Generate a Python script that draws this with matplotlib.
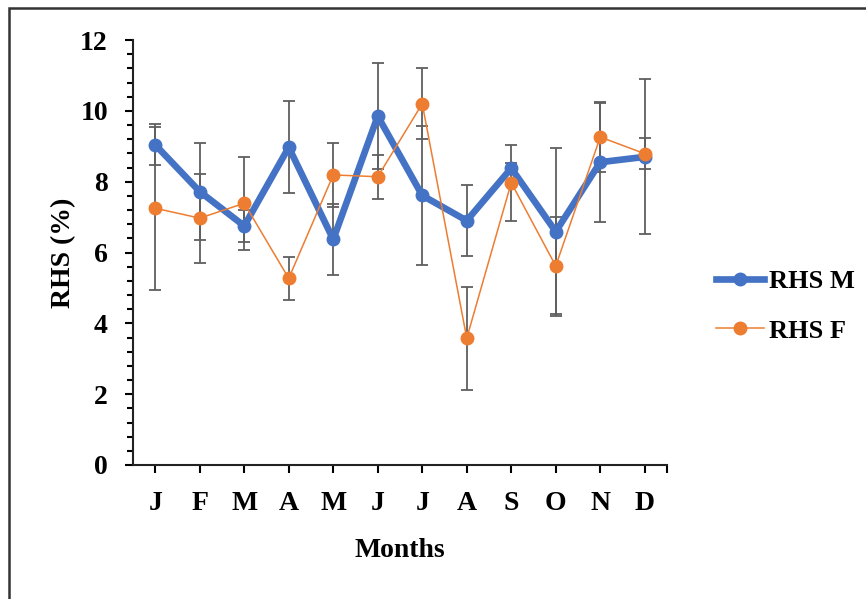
import matplotlib.pyplot as plt
from matplotlib.patches import Rectangle
from matplotlib.ticker import MultipleLocator, FixedLocator

months = ['J', 'F', 'M', 'A', 'M', 'J', 'J', 'A', 'S', 'O', 'N', 'D']
rhs_m = [9.04, 7.72, 6.75, 8.97, 6.37, 9.85, 7.61, 6.90, 8.38, 6.59, 8.55, 8.70]
rhs_m_err = [0.58, 1.36, 0.45, 1.30, 1.00, 1.50, 1.97, 1.00, 0.15, 2.37, 1.68, 2.19]
rhs_f = [7.25, 6.97, 7.39, 5.27, 8.19, 8.14, 10.20, 3.58, 7.97, 5.62, 9.26, 8.79]
rhs_f_err = [2.30, 1.26, 1.32, 0.60, 0.90, 0.62, 1.00, 1.45, 1.07, 1.37, 1.00, 0.44]

plt.rcParams['font.family'] = 'Liberation Serif'
plt.rcParams['font.weight'] = 'bold'

fig = plt.figure(figsize=(8.66, 5.99), dpi=100)
ax = fig.add_axes([133 / 866, 1 - 465 / 599, 534 / 866, 425 / 599])

x = list(range(len(months)))
err_style = dict(fmt='none', ecolor='#5f5f5f', elinewidth=1.3, capsize=4, capthick=1.3, zorder=1)
ax.errorbar(x, rhs_m, yerr=rhs_m_err, **err_style)
ax.errorbar(x, rhs_f, yerr=rhs_f_err, **err_style)
ax.plot(x, rhs_m, color='#4472C4', lw=4.8, marker='o', ms=9, label='RHS M', zorder=3)
ax.plot(x, rhs_f, color='#ED7D31', lw=1.1, marker='o', ms=9, label='RHS F', zorder=4)

ax.set_xlim(-0.5, 11.5)
ax.set_ylim(0, 12)
ax.set_xticks(x)
ax.set_xticklabels(months)
ax.xaxis.set_minor_locator(FixedLocator([11.5]))
ax.yaxis.set_major_locator(MultipleLocator(2))
ax.yaxis.set_minor_locator(MultipleLocator(0.4))

for s in ['top', 'right']:
    ax.spines[s].set_visible(False)
for s in ['left', 'bottom']:
    ax.spines[s].set_linewidth(1.5)
    ax.spines[s].set_color('#222222')

ax.tick_params(axis='y', which='major', direction='out', length=6, width=1.5, pad=12, labelsize=20)
ax.tick_params(axis='y', which='minor', direction='out', length=4.5, width=1.5)
ax.tick_params(axis='x', which='both', direction='out', length=6, width=1.5, pad=13, labelsize=20)

ax.set_xlabel('Months', fontsize=20, fontweight='bold')
ax.set_ylabel('RHS (%)', fontsize=20, fontweight='bold')
ax.xaxis.set_label_coords(0.5, -0.172)
ax.yaxis.set_label_coords(-0.106, 0.5)

fig.legend(loc='center left', bbox_to_anchor=(703 / 866, 1 - 306 / 599), frameon=False,
           fontsize=19, handlelength=1.8, handletextpad=0.2, borderpad=0, labelspacing=1.0)

fig.add_artist(Rectangle((9 / 866, -0.1), 1.2, 1 - 8 / 599 + 0.1, transform=fig.transFigure,
                         fill=False, lw=1.8, edgecolor='#333333', clip_on=False))

fig.savefig('out.png', dpi=100)
